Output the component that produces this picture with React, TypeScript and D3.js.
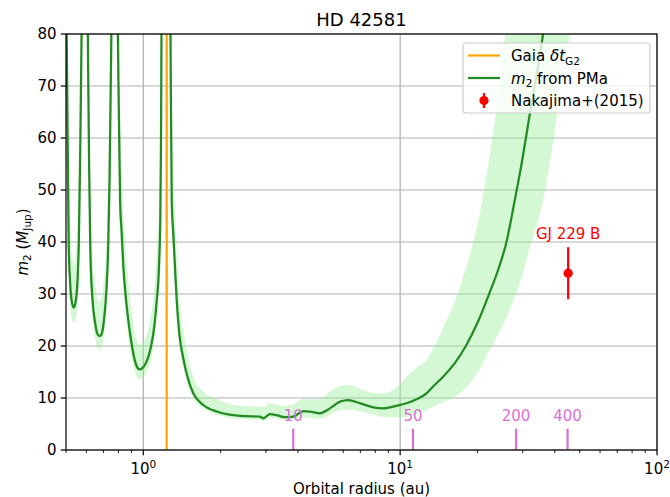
import React from "react";
import * as d3 from "d3";

// Companion mass from the proper-motion anomaly vs. orbital radius
const orbitAu = [
  0.5, 0.503, 0.512, 0.519, 0.528, 0.536, 0.545, 0.555, 0.561, 0.567, 0.575, 0.58, 0.591,
  0.598, 0.608, 0.615, 0.622, 0.634, 0.649, 0.663, 0.677, 0.691, 0.706, 0.719, 0.729, 0.739, 0.751, 0.759, 0.773,
  0.783, 0.796, 0.812, 0.824, 0.836, 0.857, 0.888, 0.92, 0.941, 0.965, 0.988, 1.015, 1.046, 1.072, 1.094, 1.128,
  1.151, 1.165, 1.172, 1.177, 1.193, 1.226, 1.259, 1.276, 1.29, 1.308, 1.328, 1.349, 1.381, 1.431, 1.497, 1.565,
  1.712, 1.93, 2.239, 2.526, 2.846, 2.931, 3.112, 3.304, 3.56, 3.835, 4.194, 4.453, 4.87, 5.329, 5.828, 6.278,
  6.966, 7.852, 8.59, 9.683, 10.59, 11.58, 12.67, 13.44, 14.7, 16.32, 18.02, 20.06, 22.2, 24.21, 25.94, 27.95,
  29.23, 31.97, 36.01, 38.23, 41.82, 45.74, 50.0,
];
const m2Mid = [
  100, 80, 40, 32, 28.3, 27.4, 28.5, 33, 40, 55, 80, 110, 200,
  110, 80, 55, 38, 29, 24.5, 22.3, 21.9, 22.6, 26, 31, 38, 52, 80, 110, 200,
  110, 80, 48, 41.7, 35.3, 28.8, 22.4, 17.9, 16.2, 15.5, 15.7, 16.4, 17.9, 20, 22.4, 28.8,
  35.3, 45, 60, 80, 120, 300, 120, 80, 48, 41.7, 35.3, 28.8, 22.4, 17.6, 13.5, 10.9,
  8.65, 7.4, 6.7, 6.5, 6.4, 6.1, 6.9, 6.7, 6.3, 6.4, 7.5, 7.4, 7.05, 8.0, 9.3, 9.6,
  9.0, 8.2, 8.0, 8.5, 9.0, 9.75, 10.9, 12.2, 14.1, 16.7, 20, 24.6, 30, 35, 40, 48.1,
  53.1, 64.6, 80, 90, 104, 120, 140,
];
const m2Low = [
  85, 68, 34, 28, 25, 24.4, 25.2, 29, 35, 48, 70, 95, 170,
  95, 70, 48, 33.5, 25.5, 21.6, 19.6, 19.3, 19.9, 23, 27, 33.5, 46, 70, 95, 170,
  95, 70, 42, 36.5, 31, 25.3, 19.7, 15.8, 14.3, 13.6, 13.8, 14.4, 15.8, 17.6, 19.7, 25.3,
  31, 39.6, 53, 70, 105, 260, 105, 70, 43, 37.5, 31.8, 26, 20.2, 15.9, 12.2, 9.9,
  8.0, 6.8, 6.1, 5.9, 5.8, 5.6, 6.2, 6.1, 5.8, 5.8, 6.3, 6.2, 6.0, 6.8, 7.7, 7.8,
  7.5, 6.8, 6.4, 6.3, 6.4, 6.9, 7.7, 8.3, 9.2, 10.2, 11.9, 15, 19, 22.5, 25.5, 29.5,
  32, 39, 48, 55, 68, 80, 95,
];
const m2High = [
  140, 110, 56, 44, 37.5, 35.5, 37.5, 44, 53, 72, 105, 140, 260,
  140, 105, 72, 50, 38, 32, 29, 28.5, 29.5, 34, 40, 50, 68, 105, 140, 260,
  140, 105, 63, 54, 46, 37.5, 29, 23.3, 21, 20.2, 20.4, 21.3, 23.3, 26, 29, 37.5,
  46, 58.5, 78, 104, 156, 390, 156, 104, 62, 54, 46, 37.5, 29, 22.9, 17.6, 14.1,
  11.2, 9.8, 8.65, 8.4, 8.3, 8.2, 9.0, 8.7, 8.5, 8.8, 9.8, 9.7, 9.8, 11.2, 12.3, 12.5,
  11.8, 11.0, 10.9, 12.0, 14.0, 15.8, 17.3, 19.5, 23.5, 28.5, 35, 43.5, 56, 69, 82, 96,
  105, 125, 150, 170, 195, 225, 260,
];

// Gaia epoch-difference radius
const gaiaDtAu = 1.233;

// Orbital periods (yr) marked along the bottom; radius from Kepler's third law
const periodYr = [10, 50, 200, 400];
const systemMassSun = 0.564;

// Direct-imaging companion
const companionName = "GJ 229 B";
const companionAu = 45.1;
const companionMass = 34;
const companionErr = 5;

const yTicks = [0, 10, 20, 30, 40, 50, 60, 70, 80];
const xMajorExp = [0, 1, 2];

const W = 670;
const H = 497;
const L = 66;
const R = 657;
const T = 34;
const B = 450;
const FONT = "DejaVu Sans";

export default function App() {
  const x = d3.scaleLog().domain([0.5, 100]).range([L, R]);
  const y = d3.scaleLinear().domain([0, 80]).range([B, T]);

  const idx = orbitAu.map((_, i) => i);
  const band = d3
    .area<number>()
    .x((i) => x(orbitAu[i]))
    .y0((i) => y(m2Low[i]))
    .y1((i) => y(m2High[i]))
    .curve(d3.curveMonotoneX)(idx);
  const line = d3
    .line<number>()
    .x((i) => x(orbitAu[i]))
    .y((i) => y(m2Mid[i]))
    .curve(d3.curveMonotoneX)(idx);

  const minor: number[] = [];
  for (let e = -1; e <= 1; e++) {
    for (let k = 2; k <= 9; k++) {
      const v = k * Math.pow(10, e);
      if (v >= 0.5 && v <= 100) minor.push(v);
    }
  }

  const periodAu = periodYr.map((p) => Math.cbrt(systemMassSun * p * p));

  const gridColor = "#b0b0b0";
  const pink = "#da70d6";

  return (
    <svg
      width={W}
      height={H}
      style={{ position: "absolute", left: 0, top: 0, background: "#fff" }}
      fontFamily={FONT}
    >
      <defs>
        <clipPath id="plot-clip">
          <rect x={L} y={T} width={R - L} height={B - T} />
        </clipPath>
      </defs>
      <rect x={0} y={0} width={W} height={H} fill="#fff" />

      {/* grid */}
      {yTicks.map((t) => (
        <line key={"gy" + t} x1={L} x2={R} y1={y(t)} y2={y(t)} stroke={gridColor} strokeWidth={1.2} />
      ))}
      {xMajorExp.map((e) => (
        <line
          key={"gx" + e}
          x1={x(Math.pow(10, e))}
          x2={x(Math.pow(10, e))}
          y1={T}
          y2={B}
          stroke={gridColor}
          strokeWidth={1.2}
        />
      ))}

      <g clipPath="url(#plot-clip)">
        <path d={band ?? ""} fill="lightgreen" fillOpacity={0.4} stroke="none" />
        <line x1={x(gaiaDtAu)} x2={x(gaiaDtAu)} y1={T} y2={B} stroke="orange" strokeWidth={2.25} />
        <path d={line ?? ""} fill="none" stroke="forestgreen" strokeWidth={2.25} strokeLinejoin="round" />

        {periodAu.map((a, i) => (
          <g key={"p" + i}>
            <line x1={x(a)} x2={x(a)} y1={y(4.1)} y2={B} stroke={pink} strokeWidth={2.2} />
            <text x={x(a)} y={420.5} fontSize={15} fill={pink} textAnchor="middle">
              {periodYr[i]}
            </text>
          </g>
        ))}

        <line
          x1={x(companionAu)}
          x2={x(companionAu)}
          y1={y(companionMass - companionErr)}
          y2={y(companionMass + companionErr)}
          stroke="red"
          strokeWidth={2.25}
        />
        <circle cx={x(companionAu)} cy={y(companionMass)} r={4.6} fill="red" />
        <text x={x(companionAu)} y={238.5} fontSize={15} fill="red" textAnchor="middle">
          {companionName}
        </text>
      </g>

      {/* spines */}
      <rect x={L} y={T} width={R - L} height={B - T} fill="none" stroke="#000" strokeWidth={1.2} />

      {/* y ticks */}
      {yTicks.map((t) => (
        <g key={"yt" + t}>
          <line x1={L - 5.25} x2={L} y1={y(t)} y2={y(t)} stroke="#000" strokeWidth={1.2} />
          <text x={L - 9.5} y={y(t) + 5.3} fontSize={15} textAnchor="end" fill="#000">
            {t}
          </text>
        </g>
      ))}

      {/* x ticks */}
      {xMajorExp.map((e) => {
        const px = x(Math.pow(10, e));
        return (
          <g key={"xt" + e}>
            <line x1={px} x2={px} y1={B} y2={B + 5.25} stroke="#000" strokeWidth={1.2} />
            <text x={px} y={474} fontSize={15} textAnchor="middle" fill="#000">
              10
              <tspan fontSize={10.5} dy={-6.5}>
                {e}
              </tspan>
            </text>
          </g>
        );
      })}
      {minor.map((v) => (
        <line key={"mt" + v} x1={x(v)} x2={x(v)} y1={B} y2={B + 3} stroke="#000" strokeWidth={0.9} />
      ))}

      {/* labels */}
      <text x={(L + R) / 2} y={26} fontSize={18} textAnchor="middle" fill="#000">
        HD 42581
      </text>
      <text x={(L + R) / 2} y={494} fontSize={15} textAnchor="middle" fill="#000">
        Orbital radius (au)
      </text>
      <text transform={`translate(27.5,${(T + B) / 2}) rotate(-90)`} fontSize={15} textAnchor="middle" fill="#000">
        <tspan fontStyle="italic">m</tspan>
        <tspan fontSize={10.5} dy={3.5}>2</tspan>
        <tspan dy={-3.5}> (</tspan>
        <tspan fontStyle="italic">M</tspan>
        <tspan fontSize={10.5} dy={3.5}>Jup</tspan>
        <tspan dy={-3.5}>)</tspan>
      </text>

      {/* legend */}
      <g>
        <rect
          x={463}
          y={43}
          width={187}
          height={70}
          rx={3}
          fill="#fff"
          fillOpacity={0.8}
          stroke="#cccccc"
          strokeWidth={1.2}
        />
        <line x1={468} x2={500} y1={55.5} y2={55.5} stroke="orange" strokeWidth={2.25} />
        <text x={511} y={61} fontSize={15} fill="#000">
          Gaia <tspan fontStyle="italic">δt</tspan>
          <tspan fontSize={10.5} dy={3.5}>G2</tspan>
        </text>
        <line x1={468} x2={500} y1={78} y2={78} stroke="forestgreen" strokeWidth={2.25} />
        <text x={511} y={83.5} fontSize={15} fill="#000">
          <tspan fontStyle="italic">m</tspan>
          <tspan fontSize={10.5} dy={3.5}>2</tspan>
          <tspan dy={-3.5}> from PMa</tspan>
        </text>
        <line x1={484} x2={484} y1={93} y2={108} stroke="red" strokeWidth={2.25} />
        <circle cx={484} cy={100.5} r={4.6} fill="red" />
        <text x={511} y={106} fontSize={15} fill="#000">
          Nakajima+(2015)
        </text>
      </g>
    </svg>
  );
}
